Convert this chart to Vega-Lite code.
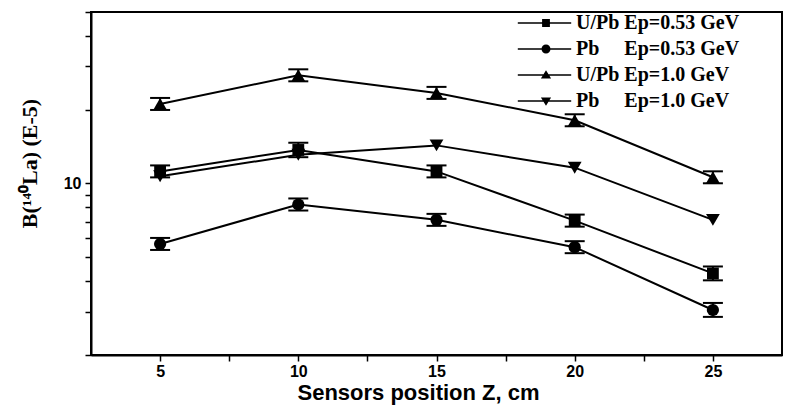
{
  "$schema": "https://vega.github.io/schema/vega-lite/v6.json",
  "width": 691,
  "height": 343,
  "autosize": "none",
  "padding": {"left": 91, "top": 12, "right": 5, "bottom": 50},
  "background": "white",
  "config": {
    "view": {"stroke": "black", "strokeWidth": 2},
    "axis": {
      "grid": false,
      "domainColor": "black",
      "domainWidth": 2,
      "tickColor": "black",
      "tickWidth": 1.5,
      "tickSize": 6,
      "labelFont": "Liberation Sans",
      "labelFontWeight": "bold",
      "labelFontSize": 16,
      "labelColor": "black",
      "titleColor": "black"
    }
  },
  "data": {
    "values": [
      {"z": 5, "b": 11.2, "lo": 10.59, "hi": 11.85, "series": "U/Pb Ep=0.53 GeV"},
      {"z": 10, "b": 13.7, "lo": 12.8, "hi": 14.66, "series": "U/Pb Ep=0.53 GeV"},
      {"z": 15, "b": 11.2, "lo": 10.59, "hi": 11.85, "series": "U/Pb Ep=0.53 GeV"},
      {"z": 20, "b": 7.06, "lo": 6.67, "hi": 7.47, "series": "U/Pb Ep=0.53 GeV"},
      {"z": 25, "b": 4.3, "lo": 4.03, "hi": 4.59, "series": "U/Pb Ep=0.53 GeV"},
      {"z": 5, "b": 5.67, "lo": 5.36, "hi": 6.0, "series": "Pb\u00a0\u00a0\u00a0\u00a0\u00a0Ep=0.53 GeV"},
      {"z": 10, "b": 8.21, "lo": 7.76, "hi": 8.69, "series": "Pb\u00a0\u00a0\u00a0\u00a0\u00a0Ep=0.53 GeV"},
      {"z": 15, "b": 7.11, "lo": 6.72, "hi": 7.52, "series": "Pb\u00a0\u00a0\u00a0\u00a0\u00a0Ep=0.53 GeV"},
      {"z": 20, "b": 5.5, "lo": 5.2, "hi": 5.82, "series": "Pb\u00a0\u00a0\u00a0\u00a0\u00a0Ep=0.53 GeV"},
      {"z": 25, "b": 3.05, "lo": 2.86, "hi": 3.26, "series": "Pb\u00a0\u00a0\u00a0\u00a0\u00a0Ep=0.53 GeV"},
      {"z": 5, "b": 21.1, "lo": 19.94, "hi": 22.32, "series": "U/Pb Ep=1.0 GeV"},
      {"z": 10, "b": 27.6, "lo": 26.09, "hi": 29.2, "series": "U/Pb Ep=1.0 GeV"},
      {"z": 15, "b": 23.4, "lo": 22.12, "hi": 24.76, "series": "U/Pb Ep=1.0 GeV"},
      {"z": 20, "b": 18.1, "lo": 17.11, "hi": 19.15, "series": "U/Pb Ep=1.0 GeV"},
      {"z": 25, "b": 10.6, "lo": 10.02, "hi": 11.21, "series": "U/Pb Ep=1.0 GeV"},
      {"z": 5, "b": 10.7, "lo": null, "hi": null, "series": "Pb\u00a0\u00a0\u00a0\u00a0\u00a0Ep=1.0 GeV"},
      {"z": 10, "b": 13.1, "lo": null, "hi": null, "series": "Pb\u00a0\u00a0\u00a0\u00a0\u00a0Ep=1.0 GeV"},
      {"z": 15, "b": 14.3, "lo": null, "hi": null, "series": "Pb\u00a0\u00a0\u00a0\u00a0\u00a0Ep=1.0 GeV"},
      {"z": 20, "b": 11.6, "lo": null, "hi": null, "series": "Pb\u00a0\u00a0\u00a0\u00a0\u00a0Ep=1.0 GeV"},
      {"z": 25, "b": 7.11, "lo": null, "hi": null, "series": "Pb\u00a0\u00a0\u00a0\u00a0\u00a0Ep=1.0 GeV"}
    ]
  },
  "encoding": {
    "x": {
      "field": "z",
      "type": "quantitative",
      "scale": {"domain": [2.5, 27.5], "nice": false, "zero": false},
      "axis": {
        "values": [5, 7.5, 10, 12.5, 15, 17.5, 20, 22.5, 25],
        "labelExpr": "datum.value % 5 == 0 ? datum.label : ''",
        "labelPadding": 2,
        "title": "Sensors position Z, cm",
        "titleFont": "Liberation Sans Narrow, Liberation Sans",
        "titleFontWeight": "bold",
        "titleFontSize": 22,
        "titlePadding": 3,
        "titleX": 327
      }
    },
    "y": {
      "field": "b",
      "type": "quantitative",
      "title": "B(\u00b9\u2074\u2070La) (E-5)",
      "scale": {"type": "log", "domain": [2, 50], "nice": false},
      "axis": {
        "values": [2, 3, 4, 5, 6, 7, 8, 9, 10, 20, 30, 40, 50],
        "labelExpr": "datum.value == 10 ? '10' : ''",
        "labelPadding": 4,
        "titleFont": "Liberation Serif",
        "titleFontWeight": "bold",
        "titleFontSize": 22,
        "titleAngle": -90,
        "titleAlign": "center",
        "titleBaseline": "alphabetic",
        "titleX": -55,
        "titleY": 151
      }
    }
  },
  "layer": [
    {
      "mark": {"type": "line", "color": "black", "strokeWidth": 2},
      "encoding": {"detail": {"field": "series"}}
    },
    {
      "transform": [{"filter": "datum.lo != null"}],
      "mark": {
        "type": "errorbar",
        "color": "black",
        "ticks": {"size": 20, "thickness": 2, "color": "black", "opacity": 1},
        "rule": {"strokeWidth": 2, "color": "black", "opacity": 1}
      },
      "encoding": {
        "y": {"field": "lo", "type": "quantitative", "title": "B(\u00b9\u2074\u2070La) (E-5)"},
        "y2": {"field": "hi"},
        "detail": {"field": "series"}
      }
    },
    {
      "transform": [{"filter": {"field": "series", "equal": "U/Pb Ep=0.53 GeV"}}],
      "mark": {"type": "point", "shape": "square", "filled": true, "color": "black", "opacity": 1, "size": 140},
      "encoding": {}
    },
    {
      "transform": [{"filter": {"field": "series", "equal": "Pb\u00a0\u00a0\u00a0\u00a0\u00a0Ep=0.53 GeV"}}],
      "mark": {"type": "point", "shape": "circle", "filled": true, "color": "black", "opacity": 1, "size": 150},
      "encoding": {}
    },
    {
      "transform": [{"filter": {"field": "series", "equal": "U/Pb Ep=1.0 GeV"}}],
      "mark": {"type": "point", "shape": "triangle-up", "filled": true, "color": "black", "opacity": 1, "size": 190},
      "encoding": {}
    },
    {
      "transform": [{"filter": {"field": "series", "equal": "Pb\u00a0\u00a0\u00a0\u00a0\u00a0Ep=1.0 GeV"}}],
      "mark": {"type": "point", "shape": "triangle-down", "filled": true, "color": "black", "opacity": 1, "size": 190},
      "encoding": {}
    },
    {
      "mark": {"type": "point", "filled": true, "color": "black", "opacity": 0},
      "encoding": {
        "shape": {
          "field": "series",
          "type": "nominal",
          "scale": {
            "domain": ["U/Pb Ep=0.53 GeV", "Pb\u00a0\u00a0\u00a0\u00a0\u00a0Ep=0.53 GeV", "U/Pb Ep=1.0 GeV", "Pb\u00a0\u00a0\u00a0\u00a0\u00a0Ep=1.0 GeV"],
            "range": [
              "M-4.7,-0.12H4.2V0.12H-4.7Z M-0.65,-0.65H0.65V0.65H-0.65Z",
              "M-4.7,-0.12H4.2V0.12H-4.7Z M-0.75,0A0.75,0.75,0,1,1,0.75,0A0.75,0.75,0,1,1,-0.75,0Z",
              "M-4.7,-0.12H4.2V0.12H-4.7Z M0,-0.8L0.85,0.6H-0.85Z",
              "M-4.7,-0.12H4.2V0.12H-4.7Z M0,0.8L-0.85,-0.6H0.85Z"
            ]
          },
          "legend": {
            "title": null,
            "orient": "none",
            "legendX": 445,
            "legendY": 1,
            "padding": 0,
            "rowPadding": 6,
            "symbolSize": 144,
            "symbolOpacity": 1,
            "symbolFillColor": "black",
            "symbolStrokeColor": "black",
            "symbolStrokeWidth": 0,
            "labelOffset": 20,
            "labelFont": "Liberation Serif",
            "labelFontWeight": "bold",
            "labelFontSize": 20,
            "labelColor": "black",
            "labelLimit": 300
          }
        }
      }
    }
  ]
}
